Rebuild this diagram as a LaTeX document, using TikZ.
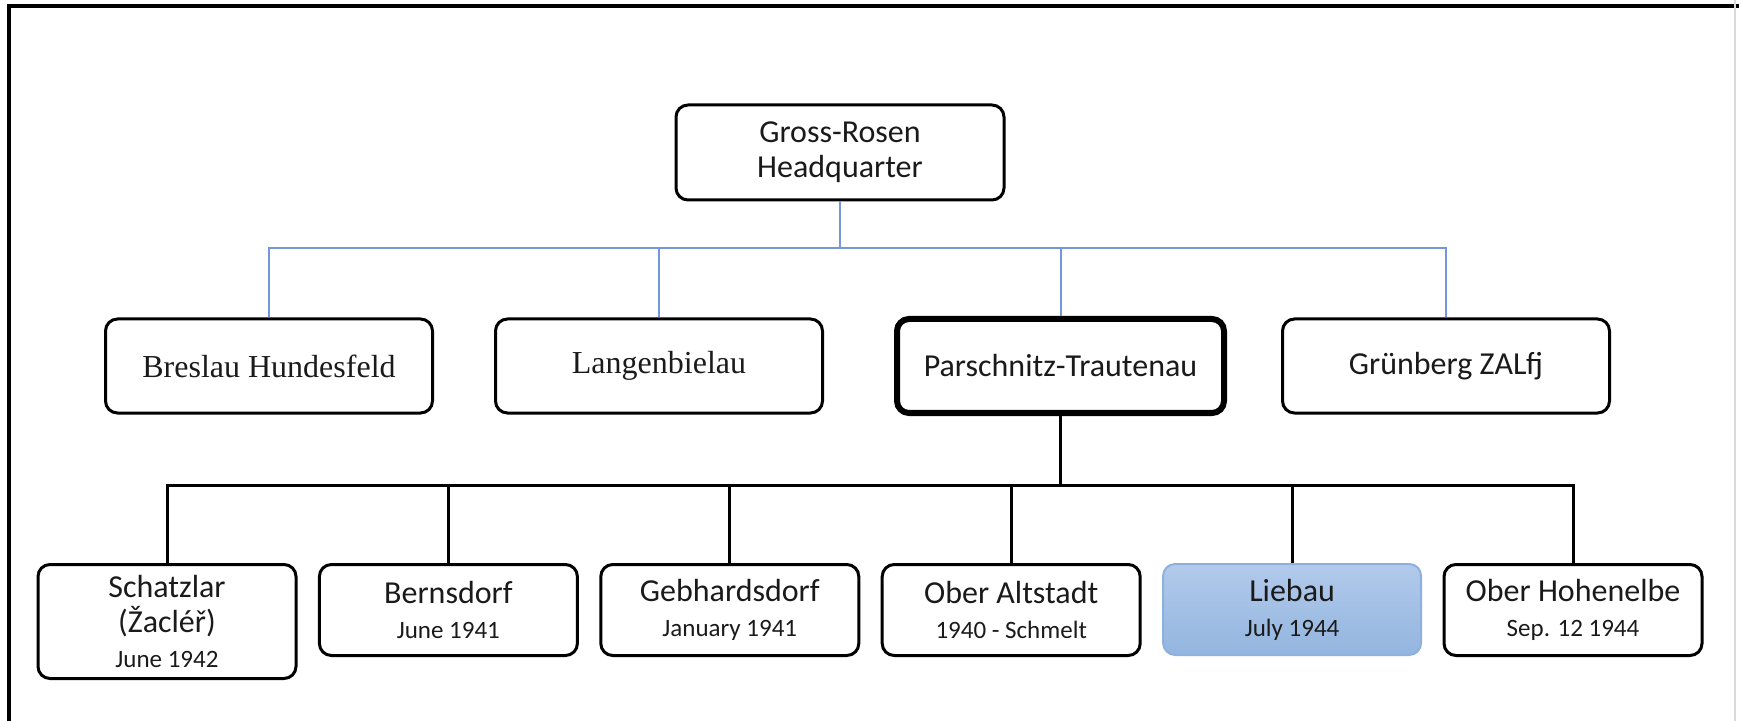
\documentclass[tikz,border=0pt]{standalone}
\usepackage{fontspec}
\setmainfont{Carlito}
\newfontfamily\tmsfont{Liberation Serif}
\usetikzlibrary{positioning,calc}
\definecolor{ink}{HTML}{1A1A1A}
\definecolor{lineblue}{HTML}{7397DA}
\definecolor{liebtop}{HTML}{B2CAEB}
\definecolor{liebbot}{HTML}{93B5DF}
\definecolor{liebline}{HTML}{8DB0DF}
\tikzset{
  box/.style={draw, rounded corners=6pt, line width=1.5pt, minimum width=163.5pt,
              minimum height=47pt, align=center, text=ink,
              font=\fontsize{16}{17.5}\selectfont},
  sub/.style={box, minimum width=129pt, minimum height=45.5pt, inner sep=3pt},
  blu/.style={draw=lineblue, line width=1pt},
  blk/.style={line width=1.5pt}
}
\newcommand\dte[1]{{\fontsize{12.5}{16}\selectfont #1}}

\begin{document}
\begin{tikzpicture}[node distance=32pt]
  \useasboundingbox (0,0) rectangle (869.5pt,-360.5pt);
  \draw[line width=2pt] (4.5pt,-360.5pt) -- (4.5pt,-3pt) -- (869.5pt,-3pt);
  \draw[black!15, line width=1pt] (867.5pt,0) -- (867.5pt,-360.5pt);

  \node[box, minimum width=164pt, minimum height=47.5pt] (hq) at (420pt,-76.25pt) {Gross-Rosen\\Headquarter};

  \node[box] (bres) at (134.5pt,-183pt) {\tmsfont Breslau Hundesfeld};
  \node[box, right=30pt of bres] (lang) {\tmsfont Langenbielau};
  \node[box, right=35pt of lang, line width=3pt] (pars) {Parschnitz-Trautenau};
  \node[box, right=27pt of pars] (grun) {Grünberg ZALfj};

  \node[sub, anchor=north, minimum height=57pt] (scha) at (83.5pt,-281.5pt) {Schatzlar\\(Žacléř)\\\dte{June 1942}};
  \node[sub, right=10.2pt of scha.north east, anchor=north west] (bern) {Bernsdorf\\\dte{June 1941}};
  \node[sub, right=10.2pt of bern.north east, anchor=north west] (gebh) {Gebhardsdorf\\\dte{January 1941}};
  \node[sub, right=10.2pt of gebh.north east, anchor=north west] (alts) {Ober Altstadt\\\dte{1940 - Schmelt}};
  \node[sub, right=10.2pt of alts.north east, anchor=north west, draw=liebline, line width=1pt,
        top color=liebtop, bottom color=liebbot] (lieb) {Liebau\\\dte{July 1944}};
  \node[sub, right=10.2pt of lieb.north east, anchor=north west] (hohe) {Ober Hohenelbe\\\dte{Sep. 12 1944}};

  \coordinate (hqbus) at ($(hq.south)+(0,-23.5pt)$);
  \draw[blu] (hq.south) -- (hqbus);
  \draw[blu] (bres.north) |- (hqbus -| grun.north) -- (grun.north);
  \foreach \n in {lang,pars}
    \draw[blu] (hqbus -| \n.north) -- (\n.north);

  \coordinate (pbus) at ($(pars.south)+(0,-34.5pt)$);
  \draw[blk] (pars.south) -- (pbus);
  \draw[blk] (scha.north) |- (pbus -| hohe.north) -- (hohe.north);
  \foreach \n in {bern,gebh,alts,lieb}
    \draw[blk] (pbus -| \n.north) -- (\n.north);
\end{tikzpicture}
\end{document}
